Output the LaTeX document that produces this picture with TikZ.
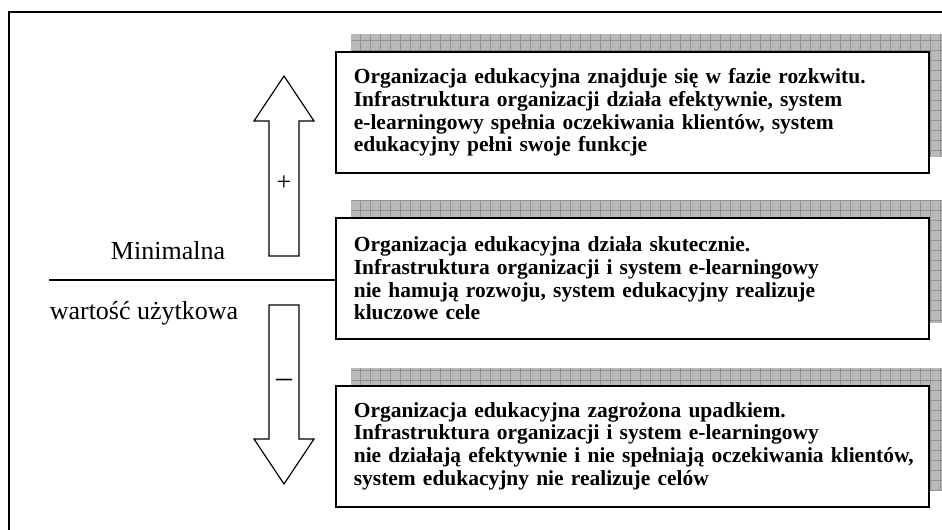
\documentclass[tikz,border=0pt]{standalone}
\usepackage{fontspec}
\setmainfont{Liberation Serif}
\usetikzlibrary{calc,backgrounds}

\tikzset{
  stage/.style={draw,line width=1.5pt,fill=white,align=left,
    font=\bfseries\fontsize{16.1}{17}\selectfont,
    text width=418pt,inner xsep=13.5pt,minimum height=90.75pt},
  shadefill/.style={fill=gray!55},
  shadegrid/.style={step=7.5pt,draw=gray!85,line width=0.4pt},
  bigarrow/.style={draw,line width=0.9pt,line join=miter},
  plain/.style={font=\fontsize{19.5}{22}\selectfont}
}

\begin{document}
\begin{tikzpicture}[x=0.75pt,y=-0.75pt]
    \useasboundingbox (0,0) rectangle (942,529);
    \clip (0,0) rectangle (942,529);
    \draw[line width=1.5pt](9,560)|-(980,12);

    \node[stage](box1) at(632.5,112.5){Organizacja edukacyjna znajduje się w fazie rozkwitu.\\
      Infrastruktura organizacji działa efektywnie, system\\
      e-learningowy spełnia oczekiwania klientów, system\\
      edukacyjny pełni swoje funkcje};
    \node[stage](box2) at(632.5,278.5){Organizacja edukacyjna działa skutecznie.\\
      Infrastruktura organizacji i system e-learningowy\\
      nie hamują rozwoju, system edukacyjny realizuje\\
      kluczowe cele};
    \node[stage](box3) at(632.5,446){Organizacja edukacyjna zagrożona upadkiem.\\
      Infrastruktura organizacji i system e-learningowy\\
      \mbox{nie działają efektywnie i nie spełniają oczekiwania klientów,}\\
      system edukacyjny nie realizuje celów};

    % shadows behind the boxes
    \begin{scope}[on background layer]
      \foreach \b in {box1,box2,box3}{
        \fill[shadefill]($(\b.south west)+(16,-17)$)rectangle($(\b.north east)+(16,-17)$);
        \draw[shadegrid]($(\b.south west)+(16,-17)$)grid($(\b.north east)+(16,-17)$);
      }
    \end{scope}

    % up and down arrows
    \draw[bigarrow](269,256)--(269,121)--(254,121)--(284,76)--(314,121)--(299,121)--(299,256)--cycle;
    \draw[bigarrow](269,305)--(269,439)--(254,439)--(284,484)--(314,439)--(299,439)--(299,305)--cycle;
    \node[plain](plus) at(284,183){+};
    \node[plain,font=\fontsize{24}{26}\selectfont](minus) at(284,383){--};

    % threshold line
    \coordinate(lineL) at(49,280);
    \draw[line width=1.1pt](lineL)--(lineL -| box2.west);
    \node[plain](minv) at(168,251){Minimalna};
    \node[plain](useval) at(144,313){wartość użytkowa};
\end{tikzpicture}
\end{document}
